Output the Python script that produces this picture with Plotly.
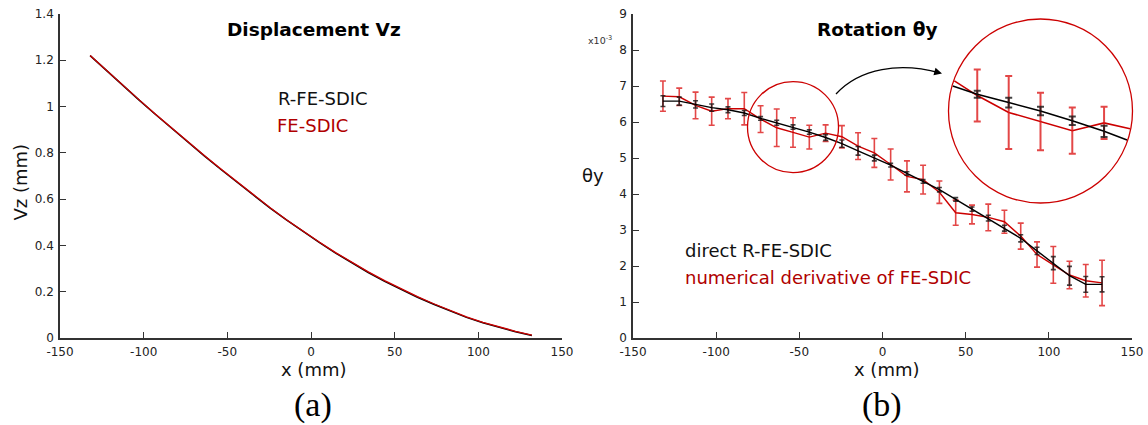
import math
import plotly.graph_objects as go

# ---------------------------------------------------------------- data
# beam abscissa of the measurement nodes (mm)
x_nodes = [-132.0, -122.2, -112.4, -102.7, -92.9, -83.1, -73.3, -63.6, -53.8, -44.0,
           -34.2, -24.4, -14.7, -4.9, 4.9, 14.7, 24.4, 34.2, 44.0, 53.8,
           63.6, 73.3, 83.1, 92.9, 102.7, 112.4, 122.2, 132.0]

# out-of-plane displacement Vz (mm)
vz_rfesdic = [1.220, 1.155, 1.091, 1.028, 0.966, 0.905, 0.845, 0.786, 0.728, 0.671,
              0.615, 0.561, 0.510, 0.460, 0.413, 0.367, 0.324, 0.283, 0.245, 0.209,
              0.176, 0.146, 0.116, 0.089, 0.066, 0.045, 0.027, 0.011]
vz_fesdic = [1.221, 1.156, 1.092, 1.029, 0.967, 0.906, 0.846, 0.788, 0.730, 0.673,
             0.618, 0.563, 0.511, 0.462, 0.415, 0.369, 0.326, 0.286, 0.248, 0.212,
             0.179, 0.148, 0.119, 0.091, 0.068, 0.047, 0.029, 0.012]

# rotation theta_y (x 1e-3 rad)
theta_direct = [6.58, 6.58, 6.49, 6.40, 6.34, 6.25, 6.10, 5.98, 5.86, 5.72,
                5.57, 5.40, 5.20, 5.00, 4.80, 4.57, 4.35, 4.12, 3.85, 3.58,
                3.33, 3.05, 2.77, 2.42, 2.08, 1.73, 1.49, 1.49]
theta_direct_err = [0.15, 0.11, 0.10, 0.10, 0.08, 0.07, 0.05, 0.07, 0.06, 0.06,
                    0.08, 0.10, 0.12, 0.08, 0.05, 0.05, 0.05, 0.06, 0.05, 0.06,
                    0.08, 0.08, 0.10, 0.10, 0.18, 0.26, 0.22, 0.21]
theta_deriv = [6.72, 6.70, 6.46, 6.30, 6.37, 6.37, 6.08, 5.84, 5.71, 5.58,
               5.69, 5.59, 5.33, 5.14, 4.82, 4.49, 4.40, 4.05, 3.48, 3.43,
               3.35, 3.23, 2.83, 2.32, 2.03, 1.75, 1.59, 1.53]
theta_deriv_err = [0.42, 0.24, 0.37, 0.39, 0.28, 0.45, 0.37, 0.52, 0.41, 0.33,
                   0.23, 0.31, 0.37, 0.40, 0.43, 0.43, 0.40, 0.31, 0.35, 0.26,
                   0.37, 0.32, 0.36, 0.35, 0.51, 0.38, 0.45, 0.63]

x_ticks = [-150, -100, -50, 0, 50, 100, 150]
x_tick_text = ["-150", "-100", "-50", "0", "50", "100", "150"]
vz_ticks = [0, 0.2, 0.4, 0.6, 0.8, 1, 1.2, 1.4]
vz_tick_text = ["0", "0.2", "0.4", "0.6", "0.8", "1", "1.2", "1.4"]
theta_ticks = [0, 1, 2, 3, 4, 5, 6, 7, 8, 9]

# ---------------------------------------------------------------- layout geometry
W, H = 1148, 425
FONT = "DejaVu Sans"
RED = "#cc0000"
RED_BAR = "rgba(220,25,25,0.8)"
BLACK = "#000000"
BLACK_BAR = "rgba(20,20,20,0.8)"
AXIS = "#333333"


def px_x(p):
    return p / W


def px_y(p):
    return 1 - p / H


# plot areas in page pixels
left_box = (60, 562)
right_box = (633, 1132)
top_px, bottom_px = 14, 338
y_dom = [px_y(bottom_px), px_y(top_px)]

# magnifier: small lens around one node, enlarged copy inside a large circle
lens_node = 8
lens_mag = 1.95
lens_src_r = 45.5          # px
lens_dst_c = (1040.5, 111)  # px
lens_dst_r = 92            # px
sx = (right_box[1] - right_box[0]) / 300.0   # px per mm
sy = (bottom_px - top_px) / 9.0              # px per 1e-3
cx, cy = x_nodes[lens_node], theta_direct[lens_node]
hx = lens_dst_r / (lens_mag * sx)
hy = lens_dst_r / (lens_mag * sy)


def clip_to_lens(xs, ys, shrink=0.992):
    """Keep the parts of a polyline lying inside the magnifier circle."""
    out_x, out_y = [], []
    last = None
    for i in range(len(xs) - 1):
        ax, ay = (xs[i] - cx) / hx / shrink, (ys[i] - cy) / hy / shrink
        bx, by = (xs[i + 1] - cx) / hx / shrink, (ys[i + 1] - cy) / hy / shrink
        dx, dy = bx - ax, by - ay
        A = dx * dx + dy * dy
        B = 2 * (ax * dx + ay * dy)
        C = ax * ax + ay * ay - 1
        disc = B * B - 4 * A * C
        if A == 0 or disc < 0:
            continue
        r = math.sqrt(disc)
        t0 = max(0.0, (-B - r) / (2 * A))
        t1 = min(1.0, (-B + r) / (2 * A))
        if t0 >= t1:
            continue
        p0 = (xs[i] + t0 * (xs[i + 1] - xs[i]), ys[i] + t0 * (ys[i + 1] - ys[i]))
        p1 = (xs[i] + t1 * (xs[i + 1] - xs[i]), ys[i] + t1 * (ys[i + 1] - ys[i]))
        if last is None or abs(last[0] - p0[0]) > 1e-9 or abs(last[1] - p0[1]) > 1e-9:
            if out_x:
                out_x.append(None)
                out_y.append(None)
            out_x.append(p0[0])
            out_y.append(p0[1])
        out_x.append(p1[0])
        out_y.append(p1[1])
        last = p1
    return out_x, out_y


def inside_lens(xs, ys):
    return [((x - cx) / hx) ** 2 + ((y - cy) / hy) ** 2 < 0.95 for x, y in zip(xs, ys)]


fig = go.Figure()

# ---------------------------------------------------------------- (a) displacement
fig.add_trace(go.Scatter(x=x_nodes, y=vz_rfesdic, mode="lines",
                         line=dict(color=BLACK, width=1.5),
                         xaxis="x", yaxis="y", showlegend=False))
fig.add_trace(go.Scatter(x=x_nodes, y=vz_fesdic, mode="lines",
                         line=dict(color=RED, width=1.3),
                         xaxis="x", yaxis="y", showlegend=False))

# ---------------------------------------------------------------- (b) rotation
fig.add_trace(go.Scatter(x=x_nodes, y=theta_deriv, mode="lines",
                         line=dict(color=RED, width=1.4),
                         error_y=dict(type="data", array=theta_deriv_err, visible=True,
                                      color=RED_BAR, thickness=1.6, width=3),
                         xaxis="x2", yaxis="y2", showlegend=False))
fig.add_trace(go.Scatter(x=x_nodes, y=theta_direct, mode="lines",
                         line=dict(color=BLACK, width=1.4),
                         error_y=dict(type="data", array=theta_direct_err, visible=True,
                                      color=BLACK_BAR, thickness=1.6, width=2.5),
                         xaxis="x2", yaxis="y2", showlegend=False))

# ---------------------------------------------------------------- magnified view
for ys, errs, lc, bc, lw in [(theta_deriv, theta_deriv_err, RED, RED_BAR, 1.6),
                             (theta_direct, theta_direct_err, BLACK, BLACK_BAR, 1.6)]:
    lx, ly = clip_to_lens(x_nodes, ys)
    fig.add_trace(go.Scatter(x=lx, y=ly, mode="lines", line=dict(color=lc, width=lw),
                             xaxis="x3", yaxis="y3", showlegend=False, connectgaps=False))
    mask = inside_lens(x_nodes, ys)
    bx = [x for x, m in zip(x_nodes, mask) if m]
    by = [y for y, m in zip(ys, mask) if m]
    be = [e for e, m in zip(errs, mask) if m]
    fig.add_trace(go.Scatter(x=bx, y=by, mode="markers", marker=dict(size=1, color=lc, opacity=0),
                             error_y=dict(type="data", array=be, visible=True,
                                          color=bc, thickness=2, width=3.5),
                             xaxis="x3", yaxis="y3", showlegend=False))

axis_common = dict(showgrid=False, zeroline=False, showline=True, linecolor=AXIS,
                   linewidth=1.6, ticks="inside", ticklen=6, tickwidth=1.4,
                   tickcolor=AXIS, tickfont=dict(family=FONT, size=12, color="#222"),
                   mirror=False, automargin=False, ticklabelstandoff=2)

fig.update_layout(
    width=W, height=H,
    margin=dict(l=0, r=0, t=0, b=0, pad=0),
    paper_bgcolor="white", plot_bgcolor="rgba(0,0,0,0)",
    xaxis=dict(domain=[px_x(left_box[0]), px_x(left_box[1])], range=[-150, 150],
               tickvals=x_ticks, ticktext=x_tick_text, anchor="y", **axis_common),
    yaxis=dict(domain=y_dom, range=[0, 1.4], tickvals=vz_ticks, ticktext=vz_tick_text,
               anchor="x", **axis_common),
    xaxis2=dict(domain=[px_x(right_box[0]), px_x(right_box[1])], range=[-150, 150],
                tickvals=x_ticks, ticktext=x_tick_text, anchor="y2", **axis_common),
    yaxis2=dict(domain=y_dom, range=[0, 9], tickvals=theta_ticks, anchor="x2", **axis_common),
    xaxis3=dict(domain=[px_x(lens_dst_c[0] - lens_dst_r), px_x(lens_dst_c[0] + lens_dst_r)],
                range=[cx - hx, cx + hx], anchor="y3", visible=False),
    yaxis3=dict(domain=[px_y(lens_dst_c[1] + lens_dst_r), px_y(lens_dst_c[1] - lens_dst_r)],
                range=[cy - hy, cy + hy], anchor="x3", visible=False),
    showlegend=False,
)

# lens outlines
fig.add_shape(type="circle", xref="x2", yref="y2",
              xsizemode="pixel", ysizemode="pixel",
              xanchor=cx, yanchor=cy,
              x0=-lens_src_r, x1=lens_src_r, y0=-lens_src_r, y1=lens_src_r,
              line=dict(color=RED, width=1.3))
fig.add_shape(type="circle", xref="x3 domain", yref="y3 domain",
              x0=0, x1=1, y0=0, y1=1, line=dict(color=RED, width=1.3))

# curved arrow from the small lens to the enlarged view
p0, c1, c2, p1 = (836, 94), (860, 68), (900, 62), (940, 73)
path = "M {} {} C {} {}, {} {}, {} {}".format(
    px_x(p0[0]), px_y(p0[1]), px_x(c1[0]), px_y(c1[1]),
    px_x(c2[0]), px_y(c2[1]), px_x(p1[0]), px_y(p1[1]))
fig.add_shape(type="path", path=path, xref="paper", yref="paper",
              line=dict(color=BLACK, width=1.3))
fig.add_annotation(x=px_x(p1[0] + 2), y=px_y(p1[1] + 0.5), xref="paper", yref="paper",
                   ax=-9, ay=-2.5, showarrow=True, arrowhead=2, arrowsize=1.2,
                   arrowwidth=1.3, arrowcolor=BLACK, text=" ", font=dict(size=2))


def label(text, x, y, size, color="#111", bold=False, family=FONT, angle=0,
          xanchor="center"):
    fig.add_annotation(x=px_x(x), y=px_y(y), xref="paper", yref="paper",
                       text="<b>{}</b>".format(text) if bold else text,
                       showarrow=False, textangle=angle, xanchor=xanchor, yanchor="middle",
                       font=dict(family=family, size=size, color=color))


# titles
label("Displacement Vz", 314, 30, 18.5, color="#000", bold=True)
label("Rotation θy", 877, 30, 18.5, color="#000", bold=True)
# axis titles
label("x (mm)", 314, 369, 18, color="#111")
label("x (mm)", 887, 369, 18, color="#111")
label("Vz (mm)", 19.5, 182, 18, color="#111", angle=-90)
label("θy", 593, 175, 18, color="#111")
label("x10<sup>-3</sup>", 600, 40, 9.5, color="#333")
# series labels
label("R-FE-SDIC", 276, 99, 18, color="#111", xanchor="left")
label("FE-SDIC", 275, 125, 18, color="#b00000", xanchor="left")
label("direct R-FE-SDIC", 683, 250, 18, color="#111", xanchor="left")
label("numerical derivative of FE-SDIC", 683, 277, 18, color="#b00000", xanchor="left")
# panel tags
label("(a)", 313, 405, 34, color="#000", family="Liberation Serif")
label("(b)", 882, 405, 34, color="#000", family="Liberation Serif")

# the page itself adds no border around the figure
fig.write_html("out.html",
               post_script="document.body.style.margin='0';"
                           "document.body.style.overflow='hidden';")
